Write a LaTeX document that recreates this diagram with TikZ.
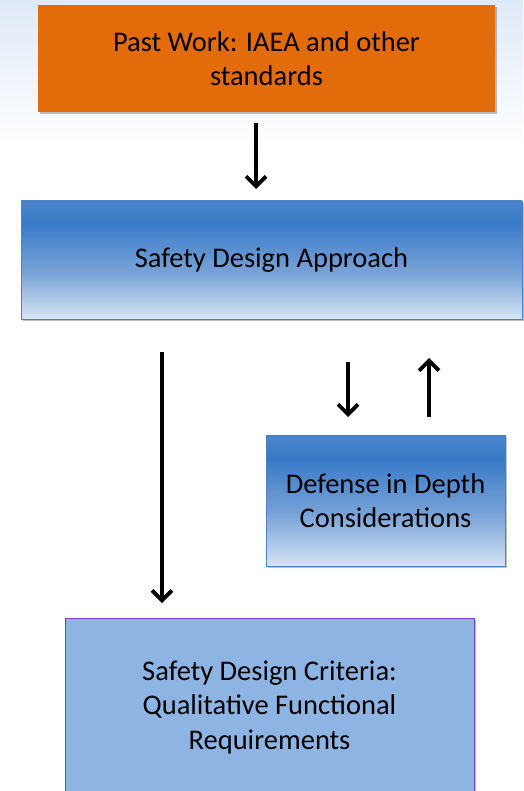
\documentclass[tikz,border=0pt]{standalone}
\usepackage{fontspec}
\setmainfont{Carlito}
\usetikzlibrary{arrows.meta,shadows}
\definecolor{orangebox}{RGB}{227,108,10}
\definecolor{critfill}{RGB}{142,180,227}
\definecolor{critdraw}{RGB}{112,64,210}
\definecolor{blueedge}{RGB}{79,129,189}
\definecolor{gtop}{RGB}{74,134,204}
\definecolor{gdark}{RGB}{56,122,200}
\definecolor{gmid}{RGB}{120,162,214}
\definecolor{glight}{RGB}{215,228,244}
\definecolor{bgblue}{RGB}{222,234,247}
\pgfdeclareverticalshading{bluegrad}{100bp}{color(0bp)=(glight); color(25bp)=(glight); color(45bp)=(gmid); color(66bp)=(gdark); color(75bp)=(gtop); color(100bp)=(gtop)}
\tikzset{
  boxtext/.style={font=\fontsize{28.5}{34.5}\selectfont, text=black, align=center, inner sep=0pt},
  dshadow/.style={drop shadow={shadow xshift=1.5pt, shadow yshift=-2pt, opacity=0.25, fill=black}},
  orangenode/.style={boxtext, fill=orangebox, dshadow},
  bluenode/.style={boxtext, shading=bluegrad, draw=blueedge, line width=0.8pt, dshadow},
  critnode/.style={boxtext, fill=critfill, draw=critdraw, line width=1pt, dshadow},
  arr/.style={line width=3.6pt, -{Straight Barb[length=10pt,width=20pt,line width=3.8pt]}}
}
\begin{document}
\begin{tikzpicture}[x=1pt,y=-1pt]
\useasboundingbox (0,0) rectangle (523,791);
\shade[top color=bgblue, bottom color=white] (0,0) rectangle (523,150);
\node[orangenode, minimum width=457pt, minimum height=107pt] (past) at (266.5,58.5) {Past Work: IAEA and other\\standards};
\node[bluenode, minimum width=501pt, minimum height=118pt] (sda) at (271.5,260) {Safety Design Approach};
\node[bluenode, minimum width=239pt, minimum height=131pt] (did) at (385.5,500.5) {Defense in Depth\\Considerations};
\node[critnode, minimum width=409pt, minimum height=182pt, text depth=0pt] (sdc) at (269.5,709) {};
\node[boxtext] (sdctext) at (269.5,707) {Safety Design Criteria:\\Qualitative Functional\\Requirements};
\coordinate (a1s) at (256,123);
\coordinate (a1e) at (256,189);
\coordinate (a2s) at (162,352);
\coordinate (a2e) at (162,603);
\coordinate (a3s) at (348,362);
\coordinate (a3e) at (348,417);
\coordinate (a4s) at (429,417);
\coordinate (a4e) at (429,358);
\draw[arr] (a1s) -- (a1e);
\draw[arr] (a2s) -- (a2e);
\draw[arr] (a3s) -- (a3e);
\draw[arr] (a4s) -- (a4e);
\end{tikzpicture}
\end{document}
